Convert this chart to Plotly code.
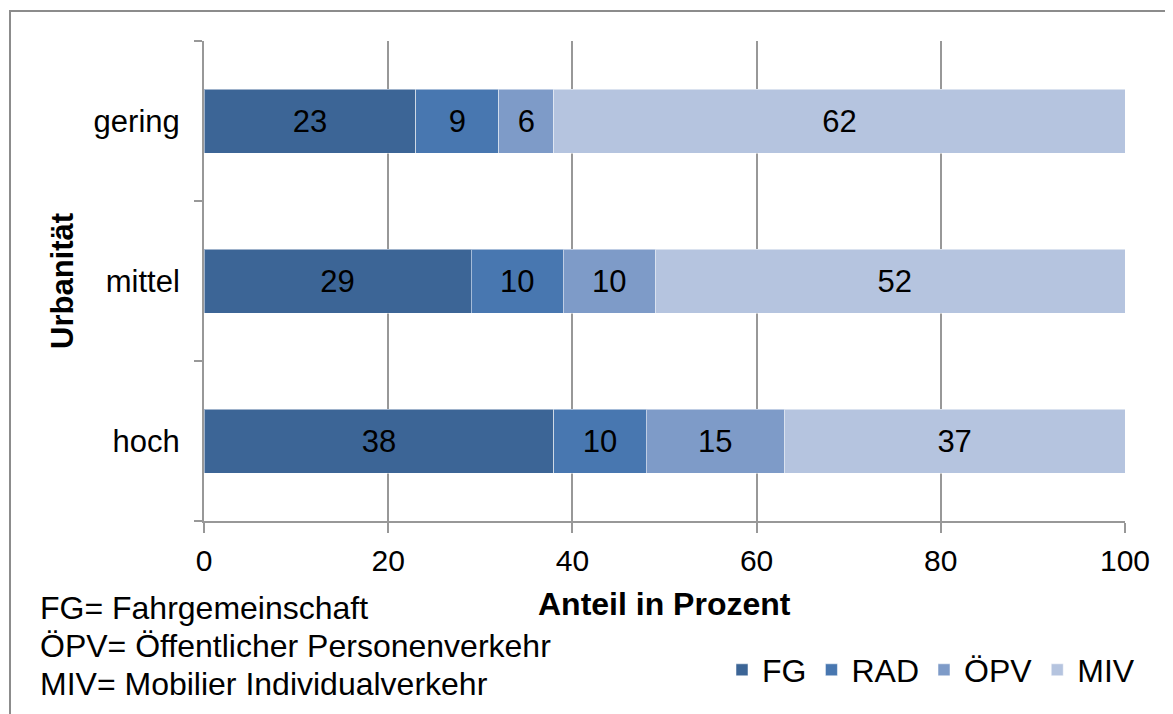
import plotly.graph_objects as go

categories = ["hoch", "mittel", "gering"]
series_names = ["FG", "RAD", "ÖPV", "MIV"]
fg = [38, 29, 23]
rad = [10, 10, 9]
opv = [15, 10, 6]
miv = [37, 52, 62]
colors = ["#3C6596", "#4877B0", "#7E9BC8", "#B5C4DF"]
x_ticks = [0, 20, 40, 60, 80, 100]
note_lines = ["FG= Fahrgemeinschaft", "ÖPV= Öffentlicher Personenverkehr", "MIV= Mobilier Individualverkehr"]

FONT = "Liberation Sans, Arial, sans-serif"
GRAY = "#989898"

# page body has an 8px margin; compensate so the plot lands at the reference pixels
OFF = 8
W, H = 1173 - OFF, 714 - OFF
L, T = 204 - OFF, 41 - OFF
pw, ph = 921, 480
R = W - L - pw
B = H - T - ph


def px_x(px):
    return (px - OFF - L) / pw


def px_y(py):
    return (T + ph - (py - OFF)) / ph


fig = go.Figure()
for name, vals, col in zip(series_names, [fg, rad, opv, miv], colors):
    fig.add_trace(go.Bar(
        name=name, y=categories, x=vals, orientation="h",
        marker=dict(color=col, line=dict(color="rgba(255,255,255,0.5)", width=1)),
        text=[str(v) for v in vals], textposition="inside",
        insidetextanchor="middle", constraintext="none",
        textfont=dict(color="black", size=31, family=FONT),
        width=0.4,
    ))

annotations = [
    dict(text="<b>Urbanität</b>", x=px_x(62), y=0.5, xref="paper", yref="paper",
         textangle=-90, showarrow=False, xanchor="center", yanchor="middle",
         font=dict(size=31, family=FONT, color="black")),
    dict(text="<b>Anteil in Prozent</b>", x=0.5, y=px_y(604), xref="paper", yref="paper",
         showarrow=False, xanchor="center", yanchor="middle",
         font=dict(size=32, family=FONT, color="black")),
]
for i, line in enumerate(note_lines):
    annotations.append(dict(text=line, x=px_x(38), y=px_y(608 + i * 38), xref="paper", yref="paper",
                            showarrow=False, xanchor="left", yanchor="middle",
                            font=dict(size=32, family=FONT, color="black")))

fig.update_layout(
    barmode="stack",
    width=W, height=H,
    margin=dict(l=L, r=R, t=T, b=B, pad=0),
    paper_bgcolor="white", plot_bgcolor="white",
    font=dict(family=FONT, size=31, color="black"),
    showlegend=True,
    legend=dict(orientation="h", x=px_x(1140), xanchor="right", y=px_y(670), yanchor="middle",
                font=dict(size=32, family=FONT), itemwidth=30, tracegroupgap=0,
                traceorder="normal", bgcolor="rgba(0,0,0,0)"),
    annotations=annotations,
    shapes=[dict(type="rect", xref="paper", yref="paper",
                 x0=px_x(10), x1=1.2, y0=-0.6, y1=px_y(11),
                 line=dict(color="#8C8C8C", width=2), layer="below")],
    xaxis=dict(range=[0, 100], tickvals=x_ticks, ticktext=[str(t) for t in x_ticks],
               showgrid=True, gridcolor=GRAY, gridwidth=2, zeroline=False,
               showline=True, linecolor=GRAY, linewidth=2,
               ticks="outside", ticklen=10, tickcolor=GRAY, tickwidth=2,
               ticklabelstandoff=2,
               tickfont=dict(size=30, family=FONT, color="black")),
    yaxis=dict(categoryorder="array", categoryarray=categories,
               range=[-0.5, 2.5], showgrid=False, zeroline=False,
               showline=True, linecolor=GRAY, linewidth=2,
               ticks="outside", ticklen=8, tickcolor=GRAY, tickwidth=2,
               tickson="boundaries", ticklabelstandoff=16,
               tickfont=dict(size=31, family=FONT, color="black")),
)

fig.write_html("out.html")
